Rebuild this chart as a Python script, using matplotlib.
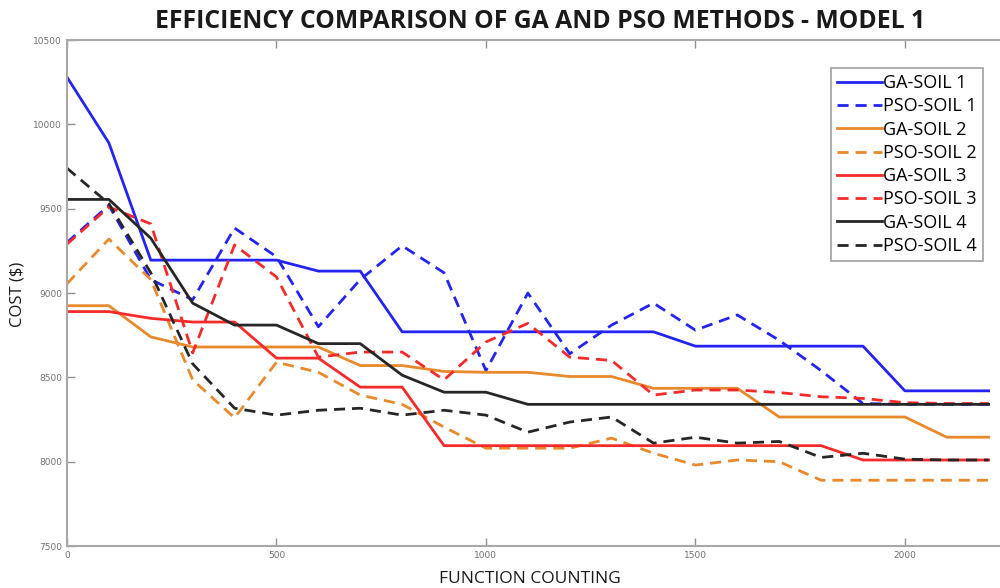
import matplotlib
matplotlib.use("Agg")
import matplotlib.pyplot as plt

# function evaluations (x axis)
counts = [0, 100, 200, 300, 400, 500, 600, 700, 800, 900, 1000, 1100,
          1200, 1300, 1400, 1500, 1600, 1700, 1800, 1900, 2000, 2100, 2200]

# cost values
ga_soil1 = [10280, 9890, 9195, 9195, 9195, 9195, 9130, 9130, 8770, 8770, 8770, 8770,
            8770, 8770, 8770, 8685, 8685, 8685, 8685, 8685, 8420, 8420, 8420]
pso_soil1 = [9300, 9520, 9080, 8960, 9385, 9215, 8800, 9080, 9280, 9120, 8540, 9000,
             8640, 8810, 8940, 8780, 8870, 8720, 8540, 8345, 8340, 8340, 8340]
ga_soil2 = [8925, 8925, 8740, 8680, 8680, 8680, 8680, 8570, 8570, 8535, 8530, 8530,
            8505, 8505, 8435, 8435, 8435, 8265, 8265, 8265, 8265, 8145, 8145]
pso_soil2 = [9055, 9320, 9080, 8485, 8260, 8590, 8530, 8395, 8340, 8205, 8080, 8080,
             8080, 8140, 8050, 7980, 8010, 8000, 7890, 7890, 7890, 7890, 7890]
ga_soil3 = [8890, 8890, 8850, 8828, 8828, 8614, 8614, 8442, 8442, 8095, 8095, 8095,
            8095, 8095, 8095, 8095, 8095, 8095, 8095, 8010, 8010, 8010, 8010]
pso_soil3 = [9290, 9510, 9410, 8645, 9285, 9095, 8620, 8650, 8650, 8485, 8710, 8820,
             8620, 8600, 8395, 8425, 8425, 8410, 8385, 8375, 8350, 8345, 8345]
ga_soil4 = [9555, 9555, 9325, 8940, 8810, 8810, 8700, 8700, 8513, 8412, 8412, 8340,
            8340, 8340, 8340, 8340, 8340, 8340, 8340, 8340, 8340, 8340, 8340]
pso_soil4 = [9740, 9530, 9120, 8580, 8317, 8276, 8305, 8317, 8276, 8305, 8276, 8175,
             8235, 8265, 8110, 8145, 8110, 8120, 8025, 8050, 8015, 8010, 8010]

blue = '#2424f2'
orange = '#e8892c'
red = '#f52a2a'
black = '#262626'
dash = (4, 2.5)

fig = plt.figure(figsize=(10, 5.88), dpi=100)
ax = fig.add_axes([0.067, 0.0714, 0.933, 0.8605])

ax.plot(counts, ga_soil1, color=blue, lw=2, label='GA-SOIL 1')
ax.plot(counts, pso_soil1, color=blue, lw=2, dashes=dash, label='PSO-SOIL 1')
ax.plot(counts, ga_soil2, color=orange, lw=2, label='GA-SOIL 2')
ax.plot(counts, pso_soil2, color=orange, lw=2, dashes=dash, label='PSO-SOIL 2')
ax.plot(counts, ga_soil3, color=red, lw=2, label='GA-SOIL 3')
ax.plot(counts, pso_soil3, color=red, lw=2, dashes=dash, label='PSO-SOIL 3')
ax.plot(counts, ga_soil4, color=black, lw=2, label='GA-SOIL 4')
ax.plot(counts, pso_soil4, color=black, lw=2, dashes=dash, label='PSO-SOIL 4')

ax.set_xlim(0, 2227)
ax.set_ylim(7500, 10500)
ax.set_xticks([0, 500, 1000, 1500, 2000])
ax.set_yticks([7500, 8000, 8500, 9000, 9500, 10000, 10500])

for side in ['left', 'bottom', 'top']:
    ax.spines[side].set_color('#a8a8a8')
    ax.spines[side].set_linewidth(1.5)
ax.spines['right'].set_visible(False)
ax.tick_params(direction='in', length=6, width=1, color='#909090',
               labelsize=6.5, labelcolor='#707070', top=True, right=False)

fig.text(0.54, 0.964, 'EFFICIENCY COMPARISON OF GA AND PSO METHODS - MODEL 1',
         ha='center', va='center', fontsize=17.8, family='Open Sans',
         fontweight='bold', color='#1a1a1a')
fig.text(0.53, 0.016, 'FUNCTION COUNTING', ha='center', va='center',
         fontsize=12.5, family='Open Sans', color='#1a1a1a')
fig.text(0.018, 0.5, 'COST ($)', ha='center', va='center', rotation=90,
         fontsize=12, family='Open Sans', color='#1a1a1a')

leg = ax.legend(loc='upper right', bbox_to_anchor=(0.982, 0.945),
                prop={'family': 'Open Sans', 'size': 13},
                handlelength=2.5, handletextpad=0.05, labelspacing=0.29,
                borderpad=0.35, borderaxespad=0, fancybox=False, framealpha=1)
leg.get_frame().set_edgecolor('#a0a0a0')
leg.get_frame().set_linewidth(1.2)

fig.savefig('out.png', dpi=100)
